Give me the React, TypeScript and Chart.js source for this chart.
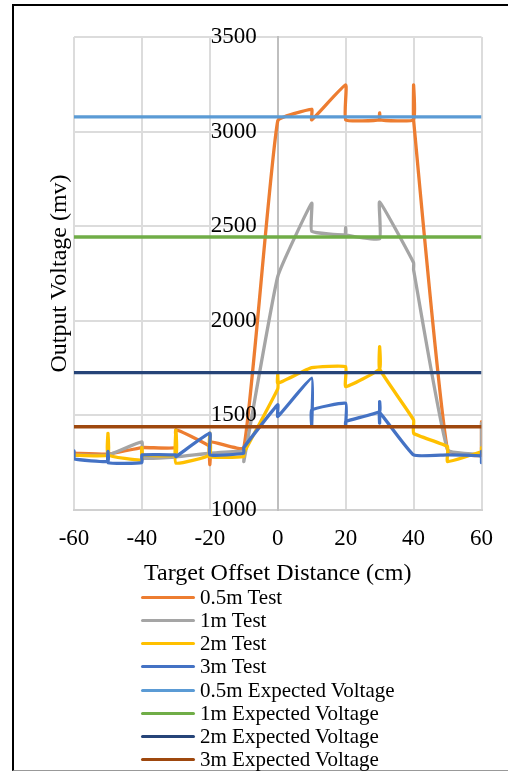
import React, { useEffect, useRef } from "react";
import { Chart, registerables } from "chart.js";

Chart.register(...registerables);

// ---- Data ----
const xMin = -60;
const xMax = 60;
const xStep = 20;
const yMin = 1000;
const yMax = 3500;
const yStep = 500;

const xTitle = "Target Offset Distance (cm)";
const yTitle = "Output Voltage (mv)";

const seriesNames = [
  "0.5m Test",
  "1m Test",
  "2m Test",
  "3m Test",
  "0.5m Expected Voltage",
  "1m Expected Voltage",
  "2m Expected Voltage",
  "3m Expected Voltage",
];

const seriesColors = [
  "#ED7D31",
  "#A5A5A5",
  "#FFC000",
  "#4472C4",
  "#5B9BD5",
  "#70AD47",
  "#264478",
  "#9E480E",
];

// 0.5m Test
const x05 = [-60, -50, -40, -30, -30, -20, -20, -20, -10, 0, 10, 10, 20, 20, 30, 30, 30, 40, 40, 40, 50, 60, 60];
const y05 = [1300, 1295, 1330, 1330, 1423, 1335, 1240, 1360, 1328, 3057, 3118, 3062, 3247, 3062, 3062, 3099, 3062, 3062, 3247, 3062, 1317, 1290, 1467];

// 1m Test
const x1 = [-60, -50, -40, -40, -30, -20, -10, -10, 0, 10, 10, 20, 20, 20, 30, 30, 40, 40, 50, 60, 60];
const y1 = [1290, 1290, 1360, 1275, 1280, 1300, 1309, 1256, 2234, 2622, 2473, 2455, 2492, 2455, 2433, 2628, 2307, 2270, 1320, 1300, 1459];

// 2m Test
const x2 = [-60, -50, -50, -50, -40, -40, -40, -30, -30, -30, -20, -20, -20, -10, -10, 0, 0, 0, 10, 20, 20, 30, 30, 30, 40, 40, 50, 50, 60, 60];
const y2 = [1290, 1290, 1405, 1291, 1264, 1330, 1291, 1291, 1423, 1248, 1291, 1406, 1282, 1282, 1300, 1640, 1715, 1670, 1752, 1757, 1652, 1745, 1864, 1745, 1476, 1405, 1335, 1256, 1309, 1330];

// 3m Test
const x3 = [-60, -60, -50, -50, -50, -40, -40, -30, -30, -20, -20, -10, -10, 0, 0, 10, 10, 10, 20, 20, 20, 30, 30, 30, 30, 40, 50, 60, 60, 60];
const y3 = [1312, 1270, 1256, 1309, 1250, 1250, 1291, 1291, 1282, 1406, 1291, 1300, 1330, 1556, 1494, 1697, 1450, 1529, 1564, 1446, 1468, 1520, 1573, 1460, 1515, 1291, 1291, 1285, 1250, 1310];

// Expected voltages (horizontal lines from -60 to 60)
const xExpected = [-60, 60];
const expected05 = 3078;
const expected1 = 2443;
const expected2 = 1726;
const expected3 = 1440;

const FONT = '"Liberation Serif", "Times New Roman", serif';

function pts(xs: number[], ys: number[]) {
  return xs.map((x, i) => ({ x, y: ys[i] }));
}

const overlayPlugin = {
  id: "overlay",
  afterDraw(chart: any) {
    const { ctx, scales, chartArea } = chart;
    const xs = scales.x;
    const ys = scales.y;
    ctx.save();
    ctx.fillStyle = "#000";
    ctx.font = `23px ${FONT}`;
    ctx.textAlign = "right";
    ctx.textBaseline = "middle";
    const x0 = xs.getPixelForValue(0);
    ys.ticks.forEach((t: any) => {
      ctx.fillText(String(t.value), x0 - 21, ys.getPixelForValue(t.value));
    });
    ctx.font = `24px ${FONT}`;
    ctx.translate(60, (chartArea.top + chartArea.bottom) / 2);
    ctx.rotate(-Math.PI / 2);
    ctx.textAlign = "center";
    ctx.fillText(yTitle, 0, 0);
    ctx.restore();
  },
};

export default function App() {
  const canvasRef = useRef<HTMLCanvasElement | null>(null);

  useEffect(() => {
    if (!canvasRef.current) return;
    const testData = [pts(x05, y05), pts(x1, y1), pts(x2, y2), pts(x3, y3)];
    const expVals = [expected05, expected1, expected2, expected3];
    const datasets: any[] = [];
    testData.forEach((d, i) => {
      datasets.push({
        label: seriesNames[i],
        data: d,
        showLine: true,
        borderColor: seriesColors[i],
        backgroundColor: seriesColors[i],
        borderWidth: 3.3,
        pointRadius: 0,
        tension: 0.12,
        borderCapStyle: "round",
        borderJoinStyle: "round",
        order: 8 - i,
      });
    });
    expVals.forEach((v, i) => {
      datasets.push({
        label: seriesNames[4 + i],
        data: xExpected.map((x) => ({ x, y: v })),
        showLine: true,
        borderColor: seriesColors[4 + i],
        backgroundColor: seriesColors[4 + i],
        borderWidth: 3.3,
        pointRadius: 0,
        tension: 0,
        order: 4 - i,
      });
    });

    const chart = new Chart(canvasRef.current, {
      type: "scatter",
      data: { datasets },
      options: {
        responsive: false,
        animation: false,
        devicePixelRatio: 1,
        layout: { padding: { left: 74, right: 25, top: 37, bottom: 0 } },
        plugins: {
          legend: { display: false },
          tooltip: { enabled: false },
        },
        scales: {
          x: {
            type: "linear",
            position: "bottom",
            min: xMin,
            max: xMax,
            ticks: {
              stepSize: xStep,
              color: "#000",
              font: { family: FONT, size: 23 },
              padding: 15,
            },
            grid: { color: "#dcdcdc", lineWidth: 2, drawTicks: false },
            border: { color: "#d0d0d0", width: 2 },
            title: {
              display: true,
              text: xTitle,
              color: "#000",
              font: { family: FONT, size: 24 },
              padding: { top: 0, bottom: 183 },
            },
            afterFit: (s: any) => {
              s.height = 261;
            },
          },
          y: {
            type: "linear",
            position: { x: 0 } as any,
            min: yMin,
            max: yMax,
            ticks: { stepSize: yStep, display: false },
            grid: { color: "#dcdcdc", lineWidth: 2, drawTicks: false },
            border: { color: "#bfbfbf", width: 2 },
          },
        },
      },
      plugins: [overlayPlugin],
    });
    return () => chart.destroy();
  }, []);

  const legendTop = 586;
  const rowH = 23.15;

  return (
    <div
      style={{
        position: "absolute",
        left: 0,
        top: 0,
        width: 508,
        height: 771,
        overflow: "hidden",
        background: "#fff",
      }}
    >
      <canvas
        ref={canvasRef}
        width={508}
        height={771}
        style={{ position: "absolute", left: 0, top: 0, display: "block" }}
      />
      <div
        style={{
          position: "absolute",
          left: 12,
          top: 4,
          width: 600,
          height: 767,
          boxSizing: "border-box",
          borderLeft: "2px solid #000",
          borderTop: "2px solid #000",
          borderBottom: "1px solid #999",
          pointerEvents: "none",
        }}
      />
      {seriesNames.map((name, i) => (
        <div
          key={name}
          style={{
            position: "absolute",
            left: 141,
            top: legendTop + i * rowH,
            height: 23,
            display: "flex",
            alignItems: "center",
            whiteSpace: "nowrap",
          }}
        >
          <span
            style={{
              display: "inline-block",
              width: 54,
              height: 3,
              borderRadius: 1.5,
              background: seriesColors[i],
              marginRight: 5,
            }}
          />
          <span
            style={{
              fontFamily: FONT,
              fontSize: 21,
              lineHeight: "23px",
              color: "#000",
            }}
          >
            {name}
          </span>
        </div>
      ))}
    </div>
  );
}
